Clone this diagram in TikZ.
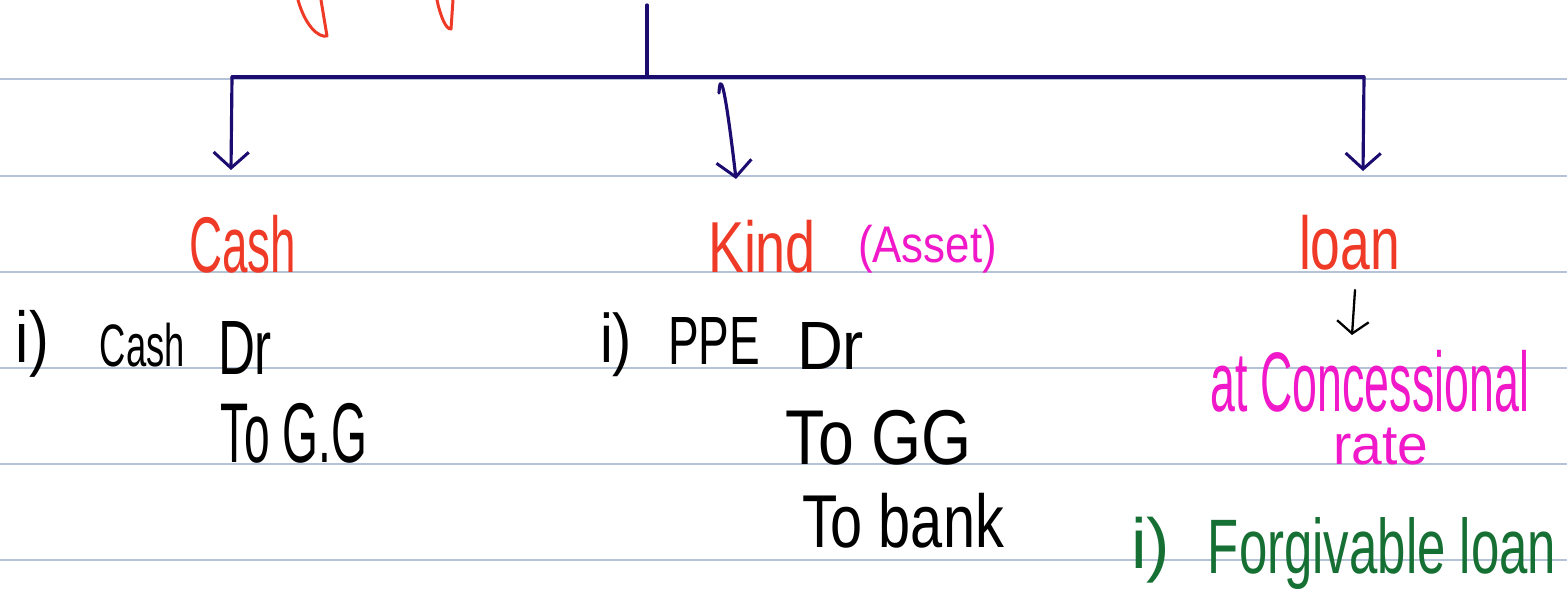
\documentclass[tikz,border=0pt]{standalone}
\usepackage{fontspec}
\setmainfont{Liberation Sans}
\usepackage{graphicx}
\usetikzlibrary{arrows.meta}
\definecolor{rule}{RGB}{180,195,216}
\definecolor{navyink}{RGB}{28,12,112}
\definecolor{redink}{RGB}{238,58,38}
\definecolor{pinkink}{RGB}{240,24,200}
\definecolor{greenink}{RGB}{22,112,52}
\newdimen\pxu \pxu=0.02cm
\newcommand\handtxt[3]{\resizebox*{#1\pxu}{#2\pxu}{#3}}
\tikzset{
  txt/.style={inner sep=0pt, outer sep=0pt, anchor=center},
  ruleline/.style={rule, line width=1.1pt},
  treeline/.style={navyink, line width=1.8pt, line cap=round, line join=round},
  treearrow/.style={treeline, -{Straight Barb[length=9pt,width=20pt,line width=1.7pt]}},
  smallarrow/.style={black, line width=1.3pt, line cap=round, -{Straight Barb[length=7pt,width=18pt,line width=1.3pt]}},
  redstroke/.style={redink, line width=1.7pt, line cap=round, line join=round}
}
\begin{document}
\begin{tikzpicture}[x=0.02cm,y=-0.02cm]
\useasboundingbox[fill=white] (0,0) rectangle (1567,590);
% ruled paper
\foreach \yy in {79,176,272,368,464,560}
  \draw[ruleline] (0,\yy) -- (1567,\yy);
% cut-off red strokes at top
\draw[redstroke] (298,0) .. controls (305,25) and (318,38) .. (327,36) -- (321,0);
\draw[redstroke] (437,0) .. controls (440,15) and (446,30) .. (451,29) -- (453,0);
% tree coordinates
\coordinate (top) at (647,5);
\coordinate (junc) at (647,77);
\coordinate (lft) at (232,77);
\coordinate (rgt) at (1364,77);
\coordinate (midstart) at (719,93);
\coordinate (lftend) at (231,170);
\coordinate (midend) at (736,179);
\coordinate (rgtend) at (1363,171);
% headings
\node[txt,text=redink] (cashH) at (242.5,244) {\handtxt{107}{58}{Cash}};
\node[txt,text=redink] (kindH) at (762,246.5) {\handtxt{108}{53}{Kind}};
\node[txt,text=pinkink] (assetH) at (927.5,249) {\handtxt{139}{48}{(Asset)}};
\node[txt,text=redink] (loanH) at (1349.5,242.5) {\handtxt{101}{55}{loan}};
% cash entry
\node[txt] (i1) at (32.5,343.5) {\handtxt{33}{67}{i)}};
\node[txt] (cash2) at (142.5,345) {\handtxt{85}{44}{Cash}};
\node[txt] (dr1) at (245,348.5) {\handtxt{54}{53}{Dr}};
\node[txt] (togg1) at (294,433) {\handtxt{146}{60}{To G.G}};
% kind entry
\node[txt] (i2) at (616,345) {\handtxt{32}{64}{i)}};
\node[txt] (ppe) at (714,340.5) {\handtxt{92}{47}{PPE}};
\node[txt] (dr2) at (830.5,345.5) {\handtxt{67}{47}{Dr}};
\node[txt] (togg2) at (879,437.5) {\handtxt{186}{55}{To GG}};
\node[txt] (tobank) at (903,520.5) {\handtxt{202}{55}{To bank}};
% loan branch
\coordinate (sastart) at (1355,290);
\coordinate (saend) at (1352,335);
\node[txt,text=pinkink,anchor=north] (concess) at (1370,350)
  {\begin{tabular}{@{}c@{}}\handtxt{318}{62}{at Concessional}\\[6pt]
   \hspace{21\pxu}\handtxt{95}{37}{rate}\end{tabular}};
\node[txt,text=greenink] (gi) at (1150.5,550) {\handtxt{39}{66}{i)}};
\node[txt,text=greenink] (forg) at (1382,554) {\handtxt{348}{72}{Forgivable loan}};
% tree
\draw[treeline] (top) -- (junc);
\draw[treeline] (lft) -- (rgt);
\draw[treearrow] (lft) -- (lftend);
\draw[treearrow] (midstart) .. controls (720,74) and (724,76) .. (midend);
\draw[treearrow] (rgt) -- (rgtend);
\draw[smallarrow] (sastart) -- (saend);
\end{tikzpicture}
\end{document}
